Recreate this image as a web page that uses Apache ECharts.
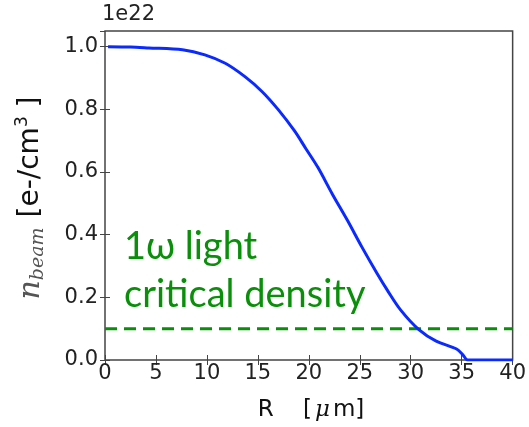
<!DOCTYPE html>
<html>
<head>
<meta charset="utf-8">
<script src="https://cdn.jsdelivr.net/npm/echarts@6/dist/echarts.min.js"></script>
<style>
  html, body { margin: 0; padding: 0; background: #fff; }
  #chart { width: 529px; height: 427px; }
</style>
</head>
<body>
<div id="chart"></div>
<script>
// 数据：从图上读出来的
const r_um = [0.3, 2.5, 4.3, 7.6, 9.8, 11.8, 13.7, 15.4, 17.0, 18.6, 19.7, 20.9, 22.3, 23.8, 25.2, 26.7, 27.7, 29.0, 30.8, 32.5, 34.5, 35.1, 35.6, 40];
const n_beam = [1.0, 0.999, 0.996, 0.99, 0.974, 0.947, 0.905, 0.857, 0.799, 0.731, 0.675, 0.614, 0.530, 0.445, 0.361, 0.276, 0.223, 0.160, 0.097, 0.060, 0.035, 0.017, 0.0, 0.0];
const critical = 0.1;
const xTicks = [0, 5, 10, 15, 20, 25, 30, 35, 40];
const yTicks = [0.0, 0.2, 0.4, 0.6, 0.8, 1.0];

const frameColor = "#444";
const green = "#0a8f0a";
const blue = "#0a2aff";

let pts = r_um.map((x, i) => [x, n_beam[i]]);

let tickFont = { fontFamily: "DejaVu Sans", fontSize: 21, color: "#222" };

let myChart = echarts.init(document.getElementById("chart"));
let option = {
    animation: false,
    grid: { left: 105, right: 12, top: 31, bottom: 67, show: true, borderColor: frameColor, borderWidth: 1.5 },
    xAxis: [{
        type: "value", min: xTicks[0], max: xTicks[xTicks.length - 1], interval: 5,
        axisLine: { show: false },
        axisTick: { show: true, inside: true, length: 5, lineStyle: { color: frameColor } },
        axisLabel: Object.assign({ margin: 3 }, tickFont),
        splitLine: { show: false }
    }, {
        type: "value", position: "top", min: xTicks[0], max: xTicks[xTicks.length - 1], interval: 5,
        axisLine: { show: false },
        axisTick: { show: true, inside: true, length: 5, lineStyle: { color: frameColor } },
        axisLabel: { show: false },
        splitLine: { show: false }
    }],
    yAxis: [{
        type: "value", min: 0, max: 1.05, interval: 0.2,
        axisLine: { show: false },
        axisTick: { show: true, inside: true, length: 5, lineStyle: { color: frameColor } },
        axisLabel: Object.assign({
            margin: 7, showMaxLabel: false,
            formatter: function (v) { return v.toFixed(1); }
        }, tickFont),
        splitLine: { show: false }
    }, {
        type: "value", position: "right", min: 0, max: 1.05, interval: 0.2,
        axisLine: { show: false },
        axisTick: { show: true, inside: true, length: 5, lineStyle: { color: frameColor } },
        axisLabel: { show: false },
        splitLine: { show: false }
    }],
    series: [{
        type: "line",
        data: pts,
        smooth: 0.3,
        showSymbol: false,
        lineStyle: { color: blue, width: 3 },
        z: 3
    }, {
        type: "line",
        data: [[xTicks[0], critical], [xTicks[xTicks.length - 1], critical]],
        showSymbol: false,
        lineStyle: { color: green, width: 3, type: [12, 7] },
        z: 2
    }],
    graphic: [
        { type: "text", left: 102, top: 4, style: { text: "1e22", font: "21px 'DejaVu Sans'", fill: "#222" } },
        { type: "text", x: 124, y: 247, style: { text: "1ω light", font: "38px Lato", fill: green, verticalAlign: "middle" } },
        { type: "text", x: 124, y: 295, style: { text: "critical density", font: "38px Lato", fill: green, verticalAlign: "middle" } },
        {
            type: "text", x: 311, y: 410,
            style: {
                text: "{t|R    [}{mu|μ}{t|m]}",
                align: "center", verticalAlign: "middle",
                rich: {
                    t: { font: "23px 'DejaVu Sans'", fill: "#111" },
                    mu: { font: "italic 23px 'DejaVu Serif'", fill: "#111", padding: [0, 3, 0, 3] }
                }
            }
        },
        {
            type: "text", x: 31, y: 198, rotation: Math.PI / 2,
            style: {
                text: "{n|n}{sub|beam}   {t|[e-/cm}{sup|3}{t| ]}",
                align: "center", verticalAlign: "middle",
                rich: {
                    n: { font: "italic 30px 'DejaVu Serif'", fill: "#555", lineHeight: 34 },
                    sub: { font: "italic 19px 'DejaVu Serif'", fill: "#555", verticalAlign: "bottom", lineHeight: 34 },
                    t: { font: "28px 'DejaVu Sans'", fill: "#111", lineHeight: 34 },
                    sup: { font: "17px 'DejaVu Sans'", fill: "#111", verticalAlign: "top", lineHeight: 34 }
                }
            }
        }
    ]
};
myChart.setOption(option);
</script>
</body>
</html>
